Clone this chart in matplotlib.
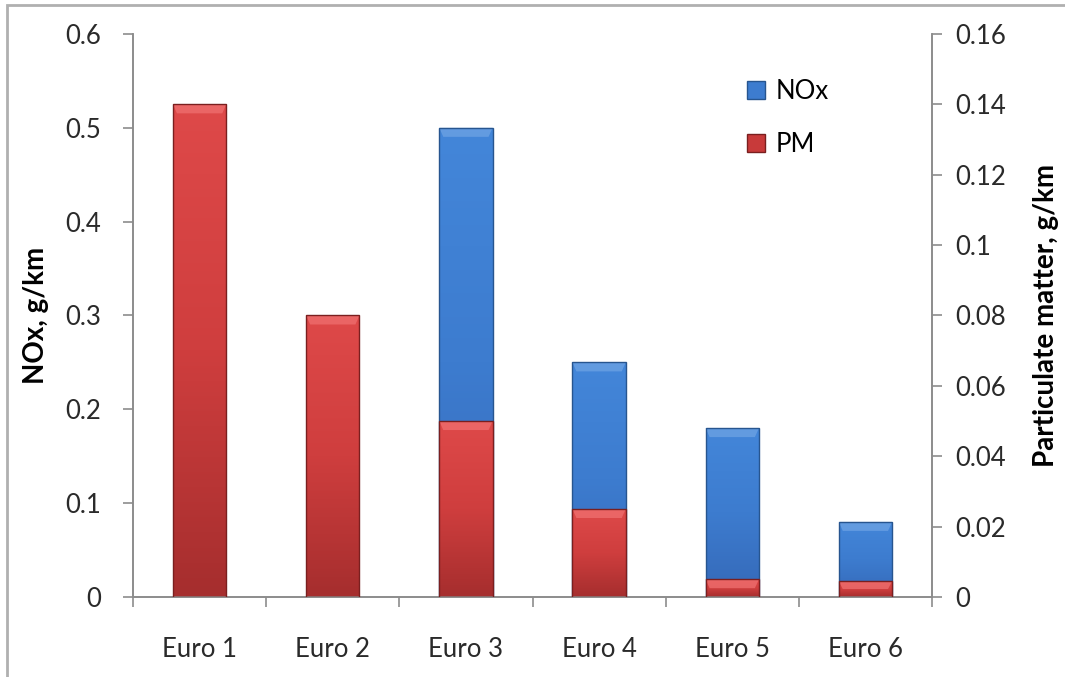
import numpy as np
import matplotlib.pyplot as plt
from matplotlib.colors import LinearSegmentedColormap
from matplotlib.patches import Polygon, Rectangle

# emission limits per Euro stage
stages = ['Euro 1', 'Euro 2', 'Euro 3', 'Euro 4', 'Euro 5', 'Euro 6']
nox = [np.nan, np.nan, 0.50, 0.25, 0.18, 0.08]      # g/km
pm = [0.14, 0.08, 0.05, 0.025, 0.005, 0.0045]       # g/km

BAR_W = 0.4
FONT = ['Lato', 'DejaVu Sans']
GREY = '#8c8c8c'

red_cm = LinearSegmentedColormap.from_list('red', ['#de4949', '#cf3e3e', '#a62e2e'])
blue_cm = LinearSegmentedColormap.from_list('blue', ['#4386d9', '#3d7ccf', '#3569b8'])


def fancy_bars(ax, x, vals, cmap, edge, light, zorder):
    # gradient bars with a bevelled highlight along the top
    px = ax.transData.inverted()
    y0 = px.transform((0, 0))[1]
    band = px.transform((0, 9))[1] - y0
    grad = np.linspace(0, 1, 64).reshape(-1, 1)
    for xi, v in zip(x, vals):
        if np.isnan(v):
            continue
        left, right = xi - BAR_W / 2, xi + BAR_W / 2
        rect = Rectangle((left, 0), BAR_W, v, facecolor='none', edgecolor=edge,
                         linewidth=1.0, zorder=zorder + 2)
        ax.add_patch(rect)
        im = ax.imshow(grad, cmap=cmap, aspect='auto', extent=(left, right, 0, v),
                       origin='upper', zorder=zorder, interpolation='bilinear')
        im.set_clip_path(rect)
        h = min(band, v / 2)
        dx = 0.03
        ax.add_patch(Polygon([(left, v), (right, v), (right - dx, v - h), (left + dx, v - h)],
                             closed=True, facecolor=light, edgecolor='none',
                             alpha=0.75, zorder=zorder + 1))


fig = plt.figure(figsize=(10.65, 6.77), dpi=100)
fig.patches.append(Rectangle((7 / 1065, -0.1), 1.2, 1 - 5 / 677 + 0.1,
                             transform=fig.transFigure, facecolor='none',
                             edgecolor='#b0b0b0', linewidth=2.0))

ax = fig.add_axes([0.1249, 0.1182, 0.7502, 0.8316])
ax2 = ax.twinx()

x = np.arange(len(stages))
for a in (ax, ax2):
    a.set_xlim(-0.5, len(stages) - 0.5)
ax.set_ylim(0, 0.6)
ax2.set_ylim(0, 0.16)

fancy_bars(ax, x, nox, blue_cm, '#27558f', '#6ea3e4', 2)
fancy_bars(ax2, x, pm, red_cm, '#7a1f1f', '#ef7070', 2)

ax.set_yticks(np.arange(0, 0.61, 0.1))
ax.set_yticklabels(['0', '0.1', '0.2', '0.3', '0.4', '0.5', '0.6'])
ax2.set_yticks(np.arange(0, 0.161, 0.02))
ax2.set_yticklabels(['0', '0.02', '0.04', '0.06', '0.08', '0.1', '0.12', '0.14', '0.16'])

ax.set_xticks(x)
ax.set_xticklabels(stages)
ax.set_xticks(np.arange(-0.5, len(stages), 1.0), minor=True)
ax.tick_params(axis='x', which='major', length=0, pad=29)
ax.tick_params(axis='x', which='minor', length=7, color=GREY, width=1.2)

for a, pad in ((ax, 16), (ax2, 10)):
    a.tick_params(axis='y', length=7, color=GREY, width=1.2, pad=pad)
    a.tick_params(labelsize=18.5, labelcolor='#2a2a2a')
    for lbl in a.get_xticklabels() + a.get_yticklabels():
        lbl.set_family(FONT)
    a.spines['top'].set_visible(False)
    for s in ('left', 'right', 'bottom'):
        a.spines[s].set_color(GREY)
        a.spines[s].set_linewidth(1.2)

ax.set_ylabel('NOx, g/km', fontsize=20, fontweight='bold', family=FONT, labelpad=12)
ax2.set_ylabel('Particulate matter, g/km', fontsize=20, fontweight='bold',
               family=FONT, labelpad=19)

# legend: small bevelled squares
handles = [Rectangle((0, 0), 1, 1, facecolor='#3d7ccf', edgecolor='#27558f'),
           Rectangle((0, 0), 1, 1, facecolor='#c83a3a', edgecolor='#7a1f1f')]
leg = ax2.legend(handles, ['NOx', 'PM'], loc='upper left', bbox_to_anchor=(0.74, 0.962),
                 frameon=False, handlelength=0.7, handleheight=0.7, handletextpad=0.4,
                 labelspacing=1.1, prop={'family': FONT, 'size': 18.5})
leg.set_zorder(10)

fig.savefig('out.png', dpi=100)
